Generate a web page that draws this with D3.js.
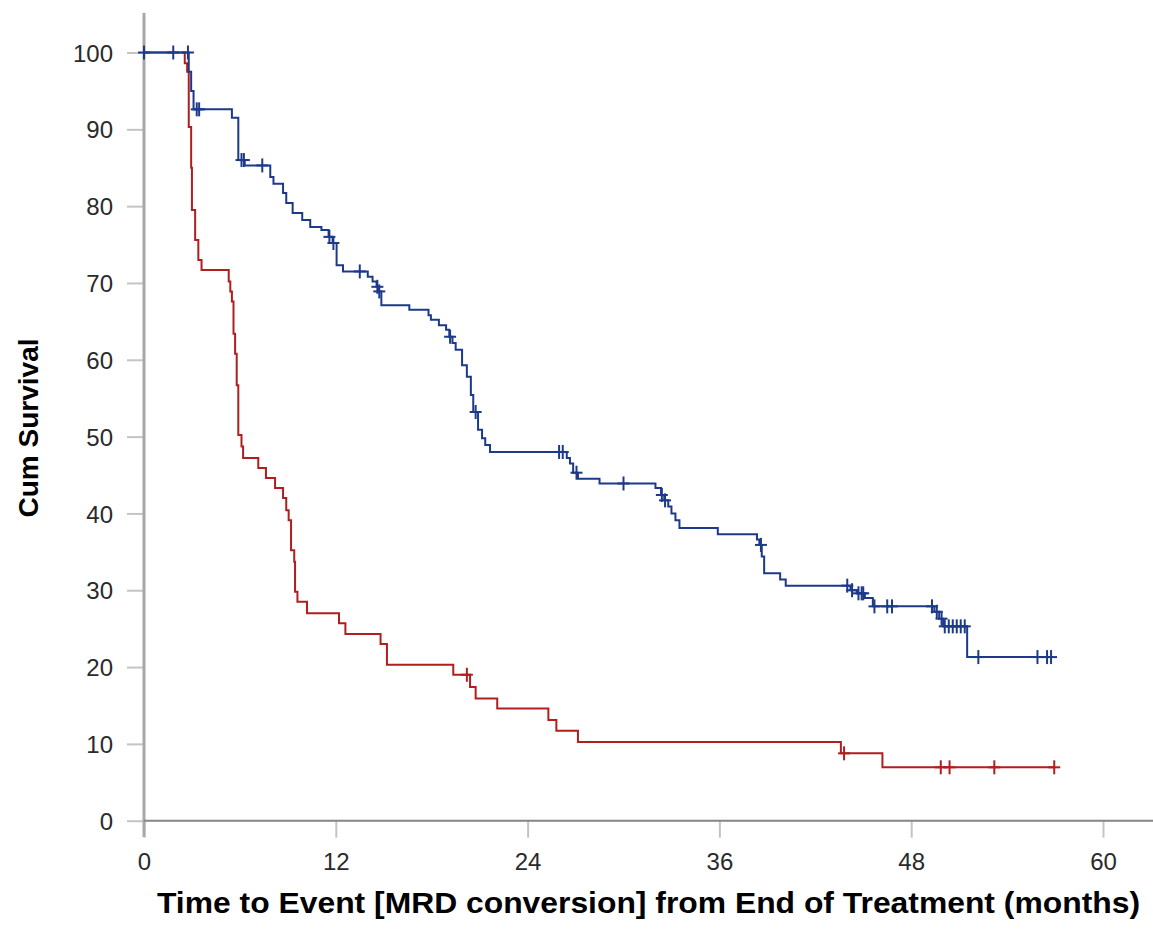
<!DOCTYPE html>
<html>
<head>
<meta charset="utf-8">
<script src="https://cdn.jsdelivr.net/npm/d3@7"></script>
<style>
  body { margin: 0; background: #fff; }
  svg { display: block; }
  .tick text { font-family: "Liberation Sans", Arial, sans-serif; font-size: 24px; fill: #2a2a2a; }
  .axisTitle { font-family: "Liberation Sans", Arial, sans-serif; font-weight: bold; fill: #000; }
</style>
</head>
<body>
<div id="chart"></div>
<script>
// Kaplan-Meier steps: [time in months, cum survival after the step]
var blueSteps = [
  [0, 100], [2.8, 97.5], [2.95, 95.0], [3.1, 92.6], [5.5, 91.5], [5.9, 86.0],
  [6.3, 85.3], [7.9, 83.8], [8.1, 82.9], [8.7, 81.7], [8.9, 80.4], [9.3, 79.1],
  [9.9, 78.2], [10.4, 77.3], [11.1, 76.9], [11.55, 76.0], [11.8, 75.2], [12.05, 72.3],
  [12.45, 71.5], [14.0, 70.8], [14.3, 70.2], [14.55, 69.5], [14.68, 68.9], [14.85, 67.1],
  [16.6, 66.5], [17.8, 65.8], [17.95, 65.2], [18.45, 64.5], [18.9, 63.9], [19.1, 63.0],
  [19.3, 62.2], [19.5, 61.3], [19.9, 59.3], [20.2, 57.8], [20.45, 55.4], [20.6, 53.2],
  [20.9, 50.9], [21.15, 49.8], [21.35, 48.9], [21.65, 48.0], [26.45, 47.2], [26.65, 46.5],
  [26.85, 45.3], [27.15, 44.5], [28.5, 43.9], [32.0, 43.3], [32.35, 42.4], [32.55, 41.7],
  [32.8, 40.9], [33.0, 40.0], [33.25, 39.1], [33.5, 38.1], [35.9, 37.3], [38.35, 36.6],
  [38.5, 35.9], [38.65, 34.4], [38.8, 32.2], [39.8, 31.4], [40.15, 30.6], [44.2, 30.0],
  [44.6, 29.6], [45.1, 29.0], [45.6, 27.9], [49.45, 27.2], [49.75, 26.3], [50.0, 25.3],
  [51.5, 21.3]
];
var blueEnd = 56.8;
var blueCensored = [0, 1.83, 2.75, 3.3, 3.45, 6.1, 6.25, 7.4, 11.6, 11.85, 13.5, 14.6, 14.72,
  19.15, 20.75, 25.97, 26.2, 27.06, 30.0, 32.4, 32.6, 38.6, 44.0, 44.3, 44.7, 44.9, 45.0,
  45.7, 46.5, 46.8, 49.3, 49.6, 49.9, 50.1, 50.35, 50.6, 50.85, 51.1, 51.35, 52.2,
  55.9, 56.5, 56.75];

var redSteps = [
  [0, 100], [2.55, 98.6], [2.7, 97.5], [2.8, 90.3], [2.95, 85.0], [3.0, 79.5],
  [3.2, 75.6], [3.4, 73.0], [3.6, 71.7], [5.3, 70.2], [5.4, 68.9], [5.5, 67.6],
  [5.6, 63.4], [5.7, 60.8], [5.8, 56.7], [5.9, 50.2], [6.1, 48.7], [6.2, 47.2],
  [7.15, 45.9], [7.63, 44.6], [8.2, 43.3], [8.7, 42.0], [8.9, 40.4], [9.05, 39.1],
  [9.2, 35.2], [9.4, 33.7], [9.45, 29.8], [9.6, 28.5], [10.2, 27.0], [12.2, 25.7],
  [12.6, 24.3], [14.8, 23.0], [15.2, 20.3], [19.35, 19.0], [20.4, 17.4], [20.75, 15.9],
  [22.1, 14.6], [25.3, 13.1], [25.8, 11.7], [27.15, 10.25], [43.6, 8.77], [46.2, 6.95]
];
var redEnd = 56.95;
var redCensored = [20.2, 43.8, 49.85, 50.4, 53.2, 56.95];

var yTicks = [0, 10, 20, 30, 40, 50, 60, 70, 80, 90, 100];
var xTicks = [0, 12, 24, 36, 48, 60];

var svgWidth = 1153, svgHeight = 947;

var svg = d3.select("#chart").append("svg")
    .attr("width", svgWidth).attr("height", svgHeight);

var x = d3.scaleLinear().domain([0, 60]).range([144, 1103]);
var y = d3.scaleLinear().domain([0, 100]).range([820.7, 52.5]);

// y axis (ticks + labels), domain line drawn separately
var yAxis = svg.append("g")
    .attr("transform", "translate(144,0)")
    .call(d3.axisLeft(y).tickValues(yTicks).tickSize(17).tickPadding(14).tickFormat(d3.format("d")));
yAxis.select(".domain").remove();
yAxis.selectAll(".tick line").attr("stroke", "#c4c4c4").attr("stroke-width", 2);
yAxis.selectAll(".tick text").attr("dy", "0.36em");

var xAxis = svg.append("g")
    .attr("transform", "translate(0,820.7)")
    .call(d3.axisBottom(x).tickValues(xTicks).tickSize(17).tickPadding(15).tickFormat(d3.format("d")));
xAxis.select(".domain").remove();
xAxis.selectAll(".tick line").attr("stroke", "#c4c4c4").attr("stroke-width", 2);
xAxis.selectAll(".tick text").attr("dy", "0.71em");

// axis lines
svg.append("line")
    .attr("x1", 144).attr("x2", 144).attr("y1", 13).attr("y2", 837)
    .attr("stroke", "#a8a8a8").attr("stroke-width", 3);
svg.append("line")
    .attr("x1", 144).attr("x2", svgWidth).attr("y1", 820.7).attr("y2", 820.7)
    .attr("stroke", "#858585").attr("stroke-width", 2);

function survAt(steps, t) {
  var s = steps[0][1];
  steps.forEach(function(p) { if (p[0] <= t) s = p[1]; });
  return s;
}

var line = d3.line()
    .x(d => x(d[0]))
    .y(d => y(d[1]))
    .curve(d3.curveStepAfter);

function drawCurve(steps, endT, censored, color) {
  var pts = steps.concat([[endT, steps[steps.length - 1][1]]]);
  var g = svg.append("g");
  g.append("path")
    .datum(pts)
    .attr("d", line)
    .attr("fill", "none")
    .attr("stroke", color)
    .attr("stroke-width", 2);
  var marks = g.selectAll(".cens")
    .data(censored)
    .enter().append("g")
    .attr("transform", d => `translate(${x(d)},${y(survAt(steps, d))})`);
  marks.append("line")
    .attr("x1", 0).attr("x2", 0).attr("y1", -7).attr("y2", 7)
    .attr("stroke", color).attr("stroke-width", 2);
  marks.append("line")
    .attr("x1", -6).attr("x2", 6).attr("y1", 0).attr("y2", 0)
    .attr("stroke", color).attr("stroke-width", 2);
}

drawCurve(redSteps, redEnd, redCensored, "#b01e1e");
drawCurve(blueSteps, blueEnd, blueCensored, "#1d3a8a");

// axis titles
svg.append("text")
    .attr("class", "axisTitle")
    .attr("transform", "translate(38,428) rotate(-90)")
    .attr("text-anchor", "middle")
    .attr("font-size", 28)
    .attr("textLength", 179)
    .attr("lengthAdjust", "spacingAndGlyphs")
    .text("Cum Survival");

svg.append("text")
    .attr("class", "axisTitle")
    .attr("x", 648.5).attr("y", 913)
    .attr("text-anchor", "middle")
    .attr("font-size", 29)
    .attr("textLength", 983)
    .attr("lengthAdjust", "spacingAndGlyphs")
    .text("Time to Event [MRD conversion] from End of Treatment (months)");
</script>
</body>
</html>
